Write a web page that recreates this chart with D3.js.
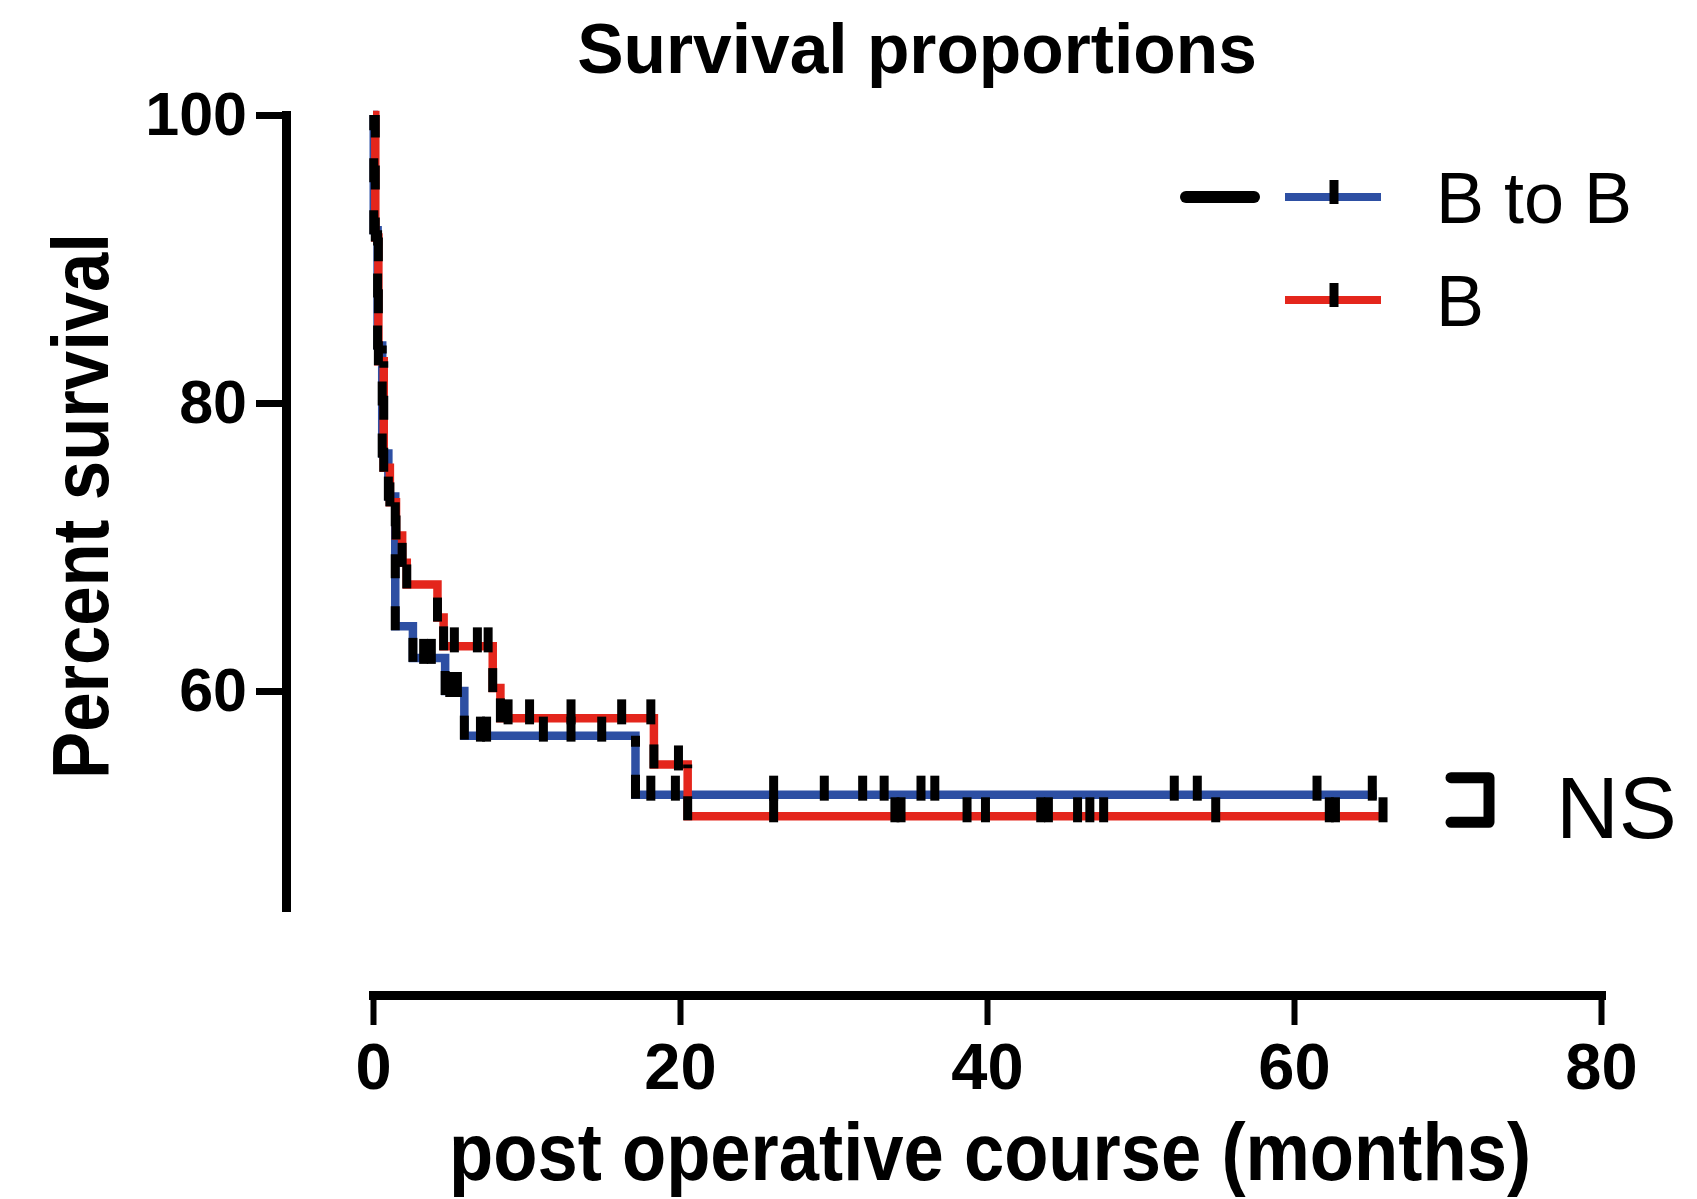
<!DOCTYPE html>
<html>
<head>
<meta charset="utf-8">
<script src="https://cdn.jsdelivr.net/npm/d3@7"></script>
<style>
  html, body { margin: 0; padding: 0; background: #fff; }
  svg { display: block; }
  text { font-family: "Liberation Sans", Arial, Helvetica, sans-serif; fill: #000; }
</style>
</head>
<body>
<svg id="chart" width="1697" height="1199"></svg>
<script>
// Kaplan–Meier survival data: each event is [months, percent surviving after the drop]
const groupNames = ["B to B", "B"];

const bToBEvents = [[0.05, 92.0], [0.3, 84.0], [0.6, 76.5], [1.0, 73.5], [1.45, 64.5],
                    [2.6, 62.3], [4.7, 60.0], [5.95, 56.9], [17.1, 52.8]];
const bToBCensored = [3.3, 3.8, 5.0, 5.5, 7.0, 7.4, 11.1, 12.9, 14.9, 18.1, 19.7, 26.1,
                      29.4, 31.9, 33.3, 35.7, 36.6, 52.2, 53.7, 61.5, 65.1];
const bToBEnd = 65.4;

const bEvents = [[0.15, 91.5], [0.35, 82.9], [0.7, 75.5], [1.1, 73.1], [1.5, 70.8],
                 [1.9, 68.9], [2.2, 67.4], [4.2, 65.1], [4.6, 63.1], [7.8, 60.2],
                 [8.3, 58.1], [18.3, 54.9], [20.5, 51.3]];
const bCensored = [5.3, 6.8, 7.5, 8.8, 10.2, 12.9, 16.2, 18.1, 19.9, 26.1, 34.0, 34.4,
                   38.7, 39.9, 43.5, 44.0, 45.9, 46.7, 47.6, 54.9, 62.3, 62.7, 65.8];
const bEnd = 65.8;

const xTicks = [0, 20, 40, 60, 80];
const yTicks = [60, 80, 100];
const comparisonLabel = "NS";

const colors = { "B to B": "#2d4fa3", "B": "#e4261c" };

const series = [
  { name: groupNames[0], events: bToBEvents, censored: bToBCensored, end: bToBEnd },
  { name: groupNames[1], events: bEvents, censored: bCensored, end: bEnd }
];

const svg = d3.select("#chart");

const x = d3.scaleLinear().domain([0, 80]).range([373, 1601]);
const y = d3.scaleLinear().domain([45, 100]).range([907, 115]);

// Title
svg.append("text")
  .attr("x", 917).attr("y", 73)
  .attr("text-anchor", "middle")
  .style("font-size", "69.5px").style("font-weight", "bold")
  .text("Survival proportions");

// Y axis
const yAxis = svg.append("g")
  .attr("transform", "translate(286,0)")
  .call(d3.axisLeft(y).tickValues(yTicks).tickSize(30).tickSizeOuter(0).tickPadding(9));
yAxis.select(".domain").attr("stroke", "#000").attr("stroke-width", 9).attr("stroke-linecap", "square");
yAxis.selectAll(".tick line").attr("stroke", "#000").attr("stroke-width", 7);
yAxis.selectAll(".tick text")
  .style("font-size", "61px").style("font-weight", "bold")
  .style("font-family", "'Liberation Sans', Arial, sans-serif").attr("fill", "#000");

// X axis (offset below the plot)
const xAxis = svg.append("g")
  .attr("transform", "translate(0,995)")
  .call(d3.axisBottom(x).tickValues(xTicks).tickSize(30).tickSizeOuter(0).tickPadding(18));
xAxis.select(".domain").attr("stroke", "#000").attr("stroke-width", 9).attr("stroke-linecap", "square");
xAxis.selectAll(".tick line").attr("stroke", "#000").attr("stroke-width", 6);
xAxis.selectAll(".tick text")
  .style("font-size", "65px").style("font-weight", "bold")
  .style("font-family", "'Liberation Sans', Arial, sans-serif").attr("fill", "#000");

// Axis titles
svg.append("text")
  .attr("transform", "translate(108,506) rotate(-90)")
  .attr("text-anchor", "middle")
  .attr("textLength", 546).attr("lengthAdjust", "spacingAndGlyphs")
  .style("font-size", "80px").style("font-weight", "bold")
  .text("Percent survival");

svg.append("text")
  .attr("x", 990).attr("y", 1180)
  .attr("text-anchor", "middle")
  .attr("textLength", 1082).attr("lengthAdjust", "spacingAndGlyphs")
  .style("font-size", "82px").style("font-weight", "bold")
  .text("post operative course (months)");

// Step curves
const stepLine = d3.line()
  .x(d => x(d[0]))
  .y(d => y(d[1]))
  .curve(d3.curveStepAfter);

function curvePoints(s) {
  const last = s.events[s.events.length - 1][1];
  return [[0, 100], ...s.events, [s.end, last]];
}

svg.append("g").selectAll("path")
  .data(series)
  .join("path")
  .attr("d", s => stepLine(curvePoints(s)))
  .attr("fill", "none")
  .attr("stroke", s => colors[s.name])
  .attr("stroke-width", 8.5)
  .attr("stroke-linejoin", "miter");

// Dashed black overlay on each drop, dashes starting from the lower end
function drops(s) {
  let prev = 100;
  return s.events.map(([t, v]) => { const d = { t, from: prev, to: v }; prev = v; return d; });
}
svg.append("g").selectAll("line")
  .data(series.flatMap(drops))
  .join("line")
  .attr("x1", d => x(d.t)).attr("x2", d => x(d.t))
  .attr("y1", d => y(d.to) + 4).attr("y2", d => y(d.from))
  .attr("stroke", "#000").attr("stroke-width", 9)
  .attr("stroke-dasharray", "24 28");

// Censor marks
function survivalAt(s, t) {
  let v = 100;
  for (const [et, ev] of s.events) { if (et <= t) v = ev; }
  return v;
}
svg.append("g").selectAll("line")
  .data(series.flatMap(s => s.censored.map(c => ({ t: c, v: survivalAt(s, c) }))))
  .join("line")
  .attr("x1", d => x(d.t)).attr("x2", d => x(d.t))
  .attr("y1", d => y(d.v) - 19).attr("y2", d => y(d.v) + 6)
  .attr("stroke", "#000").attr("stroke-width", 9);

// Legend
const legend = svg.append("g");
legend.append("line")
  .attr("x1", 1186).attr("x2", 1254).attr("y1", 197).attr("y2", 197)
  .attr("stroke", "#000").attr("stroke-width", 12).attr("stroke-linecap", "round");

const rows = legend.selectAll("g.row")
  .data(groupNames)
  .join("g")
  .attr("class", "row")
  .attr("transform", (d, i) => `translate(0,${197 + i * 103})`);
rows.append("line")
  .attr("x1", 1285).attr("x2", 1381).attr("y1", 0).attr("y2", 0)
  .attr("stroke", d => colors[d]).attr("stroke-width", 8);
rows.append("line")
  .attr("x1", 1334).attr("x2", 1334).attr("y1", -17).attr("y2", 7)
  .attr("stroke", "#000").attr("stroke-width", 9);
rows.append("text")
  .attr("x", 1436).attr("y", 26)
  .style("font-size", "72px")
  .text(d => d);

// Comparison bracket between the two curve ends
const yTop = y(bToBEvents[bToBEvents.length - 1][1]) - 17;
const yBot = y(bEvents[bEvents.length - 1][1]) + 6;
svg.append("path")
  .attr("d", `M1451,${yTop}H1489V${yBot}H1451`)
  .attr("fill", "none").attr("stroke", "#000").attr("stroke-width", 11)
  .attr("stroke-linejoin", "round").attr("stroke-linecap", "round");
svg.append("text")
  .attr("x", 1556).attr("y", 838)
  .style("font-size", "87px")
  .text(comparisonLabel);
</script>
</body>
</html>
